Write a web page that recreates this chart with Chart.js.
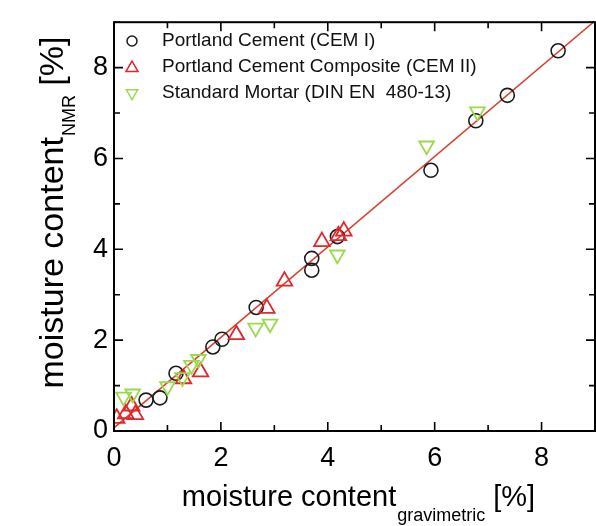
<!DOCTYPE html>
<html><head><meta charset="utf-8">
<script src="https://cdn.jsdelivr.net/npm/chart.js@4/dist/chart.umd.min.js"></script>
<style>html,body{margin:0;padding:0;background:#fff;overflow:hidden;width:596px;height:526px}canvas{display:block}</style>
</head><body>
<canvas id="c" width="606" height="526"></canvas>
<script>
// ---- data ----
const xTickLabels = [0, 2, 4, 6, 8];
const yTickLabels = [0, 2, 4, 6, 8];
const seriesNames = ['Portland Cement (CEM I)', 'Portland Cement Composite (CEM II)', 'Standard Mortar (DIN EN  480-13)'];

const cem1X = [0.6, 0.86, 1.16, 1.85, 2.02, 2.66, 3.7, 3.7, 4.18, 5.93, 6.77, 7.36, 8.31];
const cem1Y = [0.68, 0.73, 1.27, 1.85, 2.02, 2.72, 3.54, 3.8, 4.28, 5.74, 6.83, 7.39, 8.37];

const cem2X = [0.05, 0.22, 0.33, 0.4, 1.3, 1.62, 2.29, 2.86, 3.19, 3.89, 4.2, 4.3];
const cem2Y = [0.28, 0.38, 0.55, 0.36, 1.15, 1.3, 2.12, 2.7, 3.3, 4.17, 4.3, 4.4];

const mortarX = [0.18, 0.35, 1.0, 1.28, 1.45, 1.58, 2.65, 2.92, 4.18, 5.85, 6.8];
const mortarY = [0.75, 0.82, 0.98, 1.18, 1.45, 1.58, 2.27, 2.36, 3.88, 6.28, 7.03];

const fitX = [0, 8.97];
const fitY = [0.07, 9.0];

const pts = (xs, ys) => xs.map((v, i) => ({x: v, y: ys[i]}));

const COL_C = '#1c1c1c', COL_T = '#e3262b', COL_V = '#9ad94c', COL_L = '#d8402f';
const FONT = '"Liberation Sans", Arial, sans-serif';

function marker(ctx, style, cx, cy, r, color, lw) {
  ctx.save();
  ctx.strokeStyle = color; ctx.lineWidth = lw;
  ctx.beginPath();
  if (style === 'circle') {
    ctx.arc(cx, cy, r, 0, Math.PI * 2);
  } else {
    const dir = style === 'down' ? -1 : 1;
    const w = r * Math.sqrt(3) / 2;
    ctx.moveTo(cx, cy - dir * r);
    ctx.lineTo(cx + w, cy + dir * r / 2);
    ctx.lineTo(cx - w, cy + dir * r / 2);
    ctx.closePath();
  }
  ctx.stroke();
  ctx.restore();
}

function titleWithSub(ctx, main, sub, tail, bigPx, smallPx, subDrop, centerX, base) {
  const big = bigPx + 'px ' + FONT, small = smallPx + 'px ' + FONT;
  ctx.font = big; const w1 = ctx.measureText(main).width; const w3 = ctx.measureText(tail).width;
  ctx.font = small; const w2 = ctx.measureText(sub).width;
  const x0 = centerX - (w1 + w2 + w3) / 2;
  ctx.font = big; ctx.fillText(main, x0, base);
  ctx.font = small; ctx.fillText(sub, x0 + w1 + 1, base + subDrop);
  ctx.font = big; ctx.fillText(tail, x0 + w1 + w2 + 1, base);
}

const decor = {
  id: 'decor',
  afterDraw(chart) {
    const {ctx, chartArea: a, scales: {x, y}} = chart;
    ctx.save();
    ctx.strokeStyle = '#000';
    ctx.lineWidth = 2;
    ctx.strokeRect(a.left, a.top, a.right - a.left, a.bottom - a.top);
    ctx.lineWidth = 1.6;
    ctx.beginPath();
    for (let v = x.min; v <= x.max + 1e-9; v++) {
      const p = x.getPixelForValue(v);
      const L = xTickLabels.includes(v) ? 9 : 6;
      ctx.moveTo(p, a.bottom); ctx.lineTo(p, a.bottom - L);
      ctx.moveTo(p, a.top); ctx.lineTo(p, a.top + L);
    }
    for (let v = y.min; v <= y.max + 1e-9; v++) {
      const p = y.getPixelForValue(v);
      const L = yTickLabels.includes(v) ? 9 : 6;
      ctx.moveTo(a.left, p); ctx.lineTo(a.left + L, p);
      ctx.moveTo(a.right, p); ctx.lineTo(a.right - L, p);
    }
    ctx.stroke();

    // axis titles with subscripts
    ctx.fillStyle = '#000';
    ctx.textBaseline = 'alphabetic';
    ctx.textAlign = 'left';
    titleWithSub(ctx, 'moisture content', 'gravimetric', ' [%]', 29, 18, 15, 358, 506);
    ctx.translate(63, 213);
    ctx.rotate(-Math.PI / 2);
    titleWithSub(ctx, 'moisture content', 'NMR', ' [%]', 34, 18, 12, 0, 0);
    ctx.setTransform(1, 0, 0, 1, 0, 0);

    // legend
    const styles = [['circle', COL_C, 5], ['up', COL_T, 7], ['down', COL_V, 6.5]];
    ctx.font = '19px ' + FONT;
    ctx.textBaseline = 'middle';
    seriesNames.forEach((n, i) => {
      const cy = 41 + i * 26;
      marker(ctx, styles[i][0], 132, cy + (i === 1 ? 1 : 0), styles[i][2], styles[i][1], 1.5);
      ctx.fillStyle = '#111';
      ctx.fillText(n, 162, cy);
    });
    ctx.restore();
  }
};

new Chart(document.getElementById('c'), {
  type: 'scatter',
  data: {
    datasets: [
      {label: seriesNames[2], data: pts(mortarX, mortarY), pointStyle: 'triangle', rotation: 180,
        pointRadius: 8.5, pointHoverRadius: 8.5, borderColor: COL_V, backgroundColor: 'rgba(0,0,0,0)', pointBorderWidth: 1.8},
      {label: seriesNames[1], data: pts(cem2X, cem2Y), pointStyle: 'triangle',
        pointRadius: 9, pointHoverRadius: 9, borderColor: COL_T, backgroundColor: 'rgba(0,0,0,0)', pointBorderWidth: 1.8},
      {label: seriesNames[0], data: pts(cem1X, cem1Y), pointStyle: 'circle',
        pointRadius: 7, pointHoverRadius: 7, borderColor: COL_C, backgroundColor: 'rgba(0,0,0,0)', pointBorderWidth: 1.6},
      {label: 'fit', data: pts(fitX, fitY), showLine: true, pointRadius: 0, borderColor: COL_L, borderWidth: 1.5}
    ]
  },
  options: {
    responsive: false, animation: false, devicePixelRatio: 1,
    layout: {padding: {top: 17, right: 2, left: 0, bottom: 0}},
    plugins: {legend: {display: false}, tooltip: {enabled: false}},
    scales: {
      x: {type: 'linear', min: 0, max: 9,
        grid: {display: false, drawTicks: false}, border: {display: false},
        ticks: {stepSize: 1, padding: 11, color: '#000', font: {family: FONT, size: 27},
          callback: v => xTickLabels.includes(v) ? String(v) : ''},
        afterFit: s => { s.height = 95; }},
      y: {type: 'linear', min: 0, max: 9,
        grid: {display: false, drawTicks: false}, border: {display: false},
        ticks: {stepSize: 1, padding: 6, color: '#000', font: {family: FONT, size: 27},
          callback: v => yTickLabels.includes(v) ? String(v) : ''},
        afterFit: s => { s.width = 114; }}
    }
  },
  plugins: [decor]
});
</script>
</body></html>
